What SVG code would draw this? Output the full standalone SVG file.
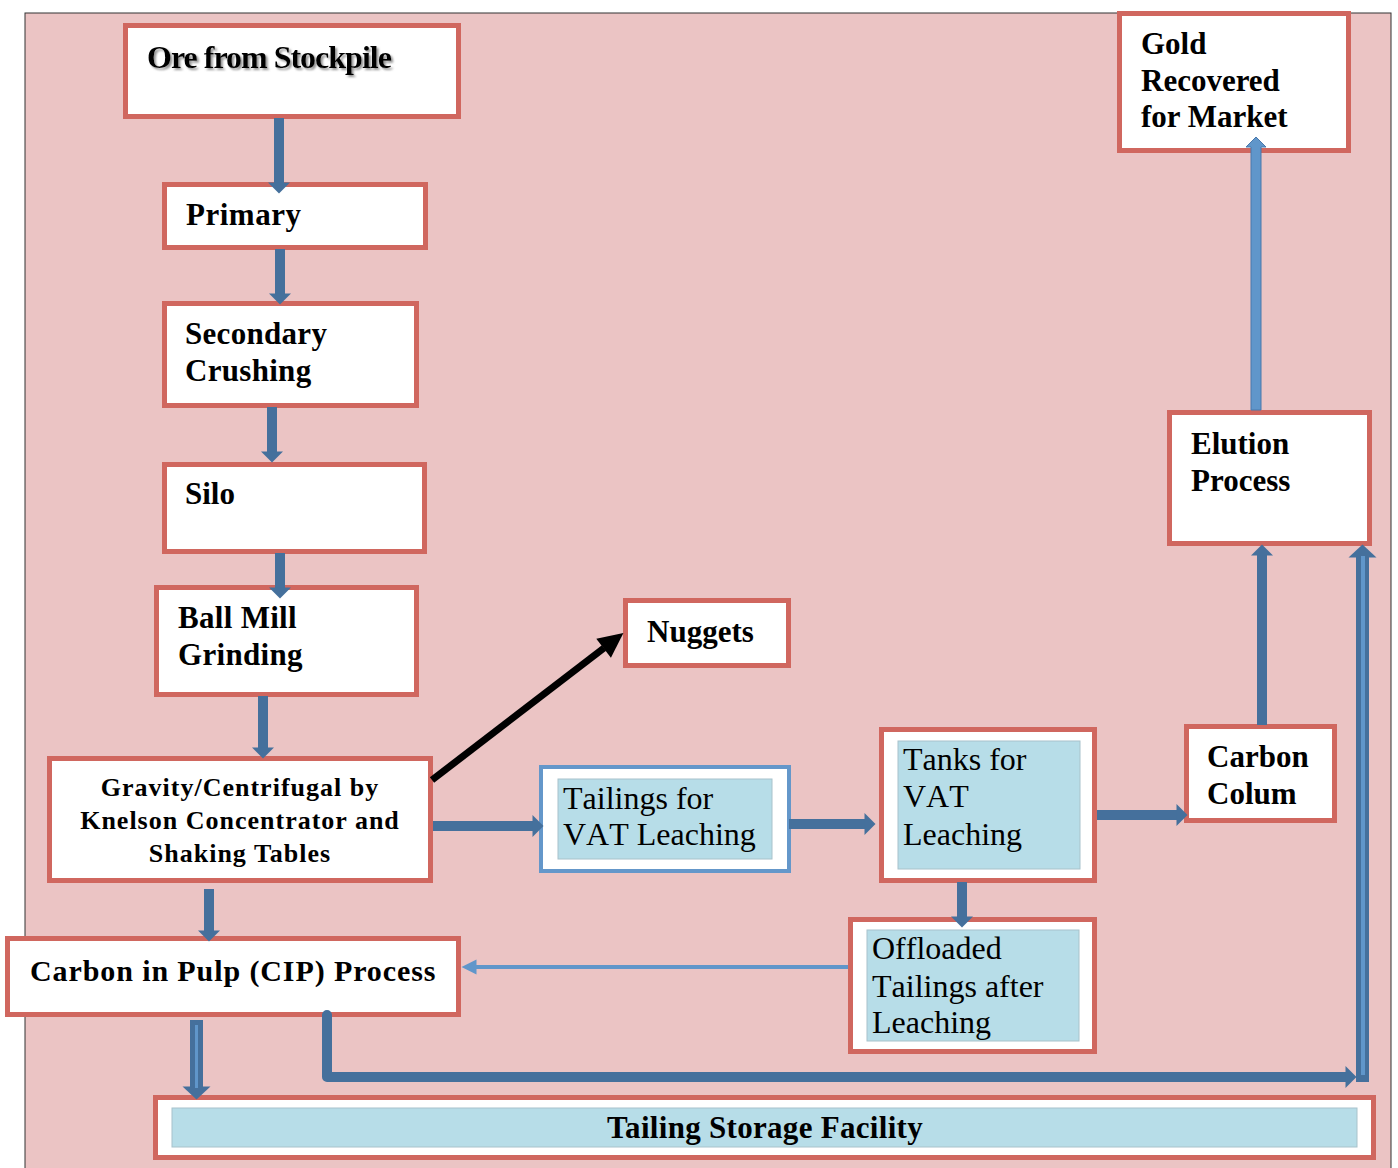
<svg xmlns="http://www.w3.org/2000/svg" width="1398" height="1168" viewBox="0 0 1398 1168">
<defs>
<style>
.box{fill:#fff;stroke:#D0675F;stroke-width:5}
.bbox{fill:#fff;stroke:#6497CA;stroke-width:4}
.inner{fill:#B7DDE8;stroke:#A8C2CB;stroke-width:1}
.tb{font-family:"Liberation Serif","Times New Roman",serif;font-weight:bold;font-size:31px;fill:#000}
.tr{font-family:"Liberation Serif","Times New Roman",serif;font-size:32px;fill:#000;font-kerning:none}
.dk{stroke:#45709C;stroke-width:10;fill:none}
.dw{stroke:#45709C;stroke-width:13;fill:none}
.lt{stroke:#6096CA;fill:none}
</style>
<marker id="hd" markerUnits="userSpaceOnUse" markerWidth="12" markerHeight="22" refX="0.5" refY="11" orient="auto" overflow="visible"><path d="M0,0 L11,11 L0,22 Z" fill="#45709C"/></marker>
<marker id="hw" markerUnits="userSpaceOnUse" markerWidth="14" markerHeight="28" refX="0.5" refY="14" orient="auto" overflow="visible"><path d="M0,0 L13,14 L0,28 Z" fill="#45709C"/></marker>
<marker id="hl" markerUnits="userSpaceOnUse" markerWidth="15" markerHeight="15" refX="0.5" refY="7.5" orient="auto" overflow="visible"><path d="M0,0 L15,7.5 L0,15 Z" fill="#6096CA"/></marker>
<marker id="hb" markerUnits="userSpaceOnUse" markerWidth="26" markerHeight="24" refX="0.5" refY="12" orient="auto" overflow="visible"><path d="M0,0 L25,12 L0,24 Z" fill="#000"/></marker>
<filter id="sh" x="-5%" y="-20%" width="110%" height="150%"><feDropShadow dx="2" dy="2" stdDeviation="1" flood-color="#777" flood-opacity="0.8"/></filter>
</defs>
<rect x="25" y="13" width="1366" height="1160" fill="#EBC4C4" stroke="#333" stroke-width="1"/>

<g id="ore">
<rect class="box" x="125.5" y="25.5" width="333" height="91"/>
<text class="tb" x="147" y="68" style="font-size:32px" letter-spacing="-1" filter="url(#sh)">Ore from Stockpile</text>
</g>
<g id="primary">
<rect class="box" x="164.5" y="184.5" width="261" height="63"/>
<text class="tb" x="186" y="225" letter-spacing="0.5">Primary</text>
</g>
<g id="secondary">
<rect class="box" x="164.5" y="303.5" width="252" height="102"/>
<text class="tb" x="185" y="344" letter-spacing="0.3">Secondary</text>
<text class="tb" x="185" y="381" letter-spacing="0.3">Crushing</text>
</g>
<g id="silo">
<rect class="box" x="164.5" y="464.5" width="260" height="87"/>
<text class="tb" x="185" y="504">Silo</text>
</g>
<g id="ballmill">
<rect class="box" x="156.5" y="587.5" width="260" height="107"/>
<text class="tb" x="178" y="628" letter-spacing="0.3">Ball Mill</text>
<text class="tb" x="178" y="665" letter-spacing="0.3">Grinding</text>
</g>
<g id="gravity">
<rect class="box" x="49.5" y="758.5" width="381" height="122"/>
<text class="tb" x="240" y="796" style="font-size:26px" letter-spacing="1" text-anchor="middle">Gravity/Centrifugal by</text>
<text class="tb" x="240" y="829" style="font-size:26px" letter-spacing="1" text-anchor="middle">Knelson Concentrator and</text>
<text class="tb" x="240" y="862" style="font-size:26px" letter-spacing="1" text-anchor="middle">Shaking Tables</text>
</g>
<g id="nuggets">
<rect class="box" x="625.5" y="600.5" width="163" height="65"/>
<text class="tb" x="647" y="642">Nuggets</text>
</g>
<g id="tailings">
<rect class="bbox" x="541" y="767" width="248" height="104"/>
<rect class="inner" x="558" y="779" width="214" height="80"/>
<text class="tr" x="563" y="809">Tailings for</text>
<text class="tr" x="563" y="845">VAT Leaching</text>
</g>
<g id="tanks">
<rect class="box" x="881.5" y="729.5" width="213" height="151"/>
<rect class="inner" x="898" y="741" width="182" height="128"/>
<text class="tr" x="903" y="770">Tanks for</text>
<text class="tr" x="903" y="807">VAT</text>
<text class="tr" x="903" y="845">Leaching</text>
</g>
<g id="carbon">
<rect class="box" x="1186.5" y="726.5" width="148" height="94"/>
<text class="tb" x="1207" y="767">Carbon</text>
<text class="tb" x="1207" y="804">Colum</text>
</g>
<g id="offloaded">
<rect class="box" x="850.5" y="919.5" width="244" height="132"/>
<rect class="inner" x="867" y="930" width="212" height="111"/>
<text class="tr" x="872" y="959">Offloaded</text>
<text class="tr" x="872" y="997">Tailings after</text>
<text class="tr" x="872" y="1033">Leaching</text>
</g>
<g id="cip">
<rect class="box" x="7.5" y="938.5" width="451" height="76"/>
<text class="tb" x="30" y="981" style="font-size:30px" letter-spacing="0.9">Carbon in Pulp (CIP) Process</text>
</g>
<g id="tsf">
<rect class="box" x="155.5" y="1097.5" width="1218" height="60"/>
<rect class="inner" x="172" y="1108" width="1185" height="39"/>
<text class="tb" x="765" y="1138" text-anchor="middle" letter-spacing="0.3">Tailing Storage Facility</text>
</g>
<g id="elution">
<rect class="box" x="1169.5" y="412.5" width="200" height="131"/>
<text class="tb" x="1191" y="454">Elution</text>
<text class="tb" x="1191" y="491">Process</text>
</g>
<g id="gold">
<rect class="box" x="1119.5" y="13.5" width="229" height="137"/>
<text class="tb" x="1141" y="54">Gold</text>
<text class="tb" x="1141" y="91">Recovered</text>
<text class="tb" x="1141" y="127">for Market</text>
</g>

<g id="connectors">
<line class="dk" x1="279" y1="118" x2="279" y2="183" marker-end="url(#hd)"/>
<line class="dk" x1="280" y1="249" x2="280" y2="294" marker-end="url(#hd)"/>
<line class="dk" x1="272" y1="407" x2="272" y2="452" marker-end="url(#hd)"/>
<line class="dk" x1="280" y1="553" x2="280" y2="588" marker-end="url(#hd)"/>
<line class="dk" x1="263" y1="696" x2="263" y2="748" marker-end="url(#hd)"/>
<line class="dk" x1="209" y1="889" x2="209" y2="931" marker-end="url(#hd)"/>
<line class="dk" x1="433" y1="826" x2="533" y2="826" marker-end="url(#hd)"/>
<line class="dk" x1="789" y1="824" x2="865" y2="824" marker-end="url(#hd)"/>
<line class="dk" x1="1097" y1="815" x2="1177" y2="815" marker-end="url(#hd)"/>
<line class="dk" x1="962" y1="882" x2="962" y2="917" marker-end="url(#hd)"/>
<line class="dk" x1="1262" y1="725" x2="1262" y2="555" marker-end="url(#hd)"/>
<path d="M1251,410 V147 H1246 L1256,137 L1266,147 H1261 V410 Z" fill="#6096CA" stroke="#4978AC" stroke-width="1"/>
<line class="lt" stroke-width="4" x1="848" y1="967" x2="476" y2="967" marker-end="url(#hl)"/>
<line class="dw" x1="196.5" y1="1020" x2="196.5" y2="1087" marker-end="url(#hw)"/>
<line class="lt" stroke-width="3" x1="196.5" y1="1025" x2="196.5" y2="1088"/>
<path class="dk" d="M327,1015 V1077 H1346" stroke-linejoin="round" stroke-linecap="round" marker-end="url(#hd)"/>
<line class="dw" x1="1362.5" y1="1082" x2="1362.5" y2="557" marker-end="url(#hw)"/>
<line class="lt" stroke-width="4" x1="1363" y1="1075" x2="1363" y2="556"/>
<line stroke="#000" stroke-width="7" x1="432" y1="780" x2="604" y2="648" marker-end="url(#hb)"/>
</g>
</svg>
